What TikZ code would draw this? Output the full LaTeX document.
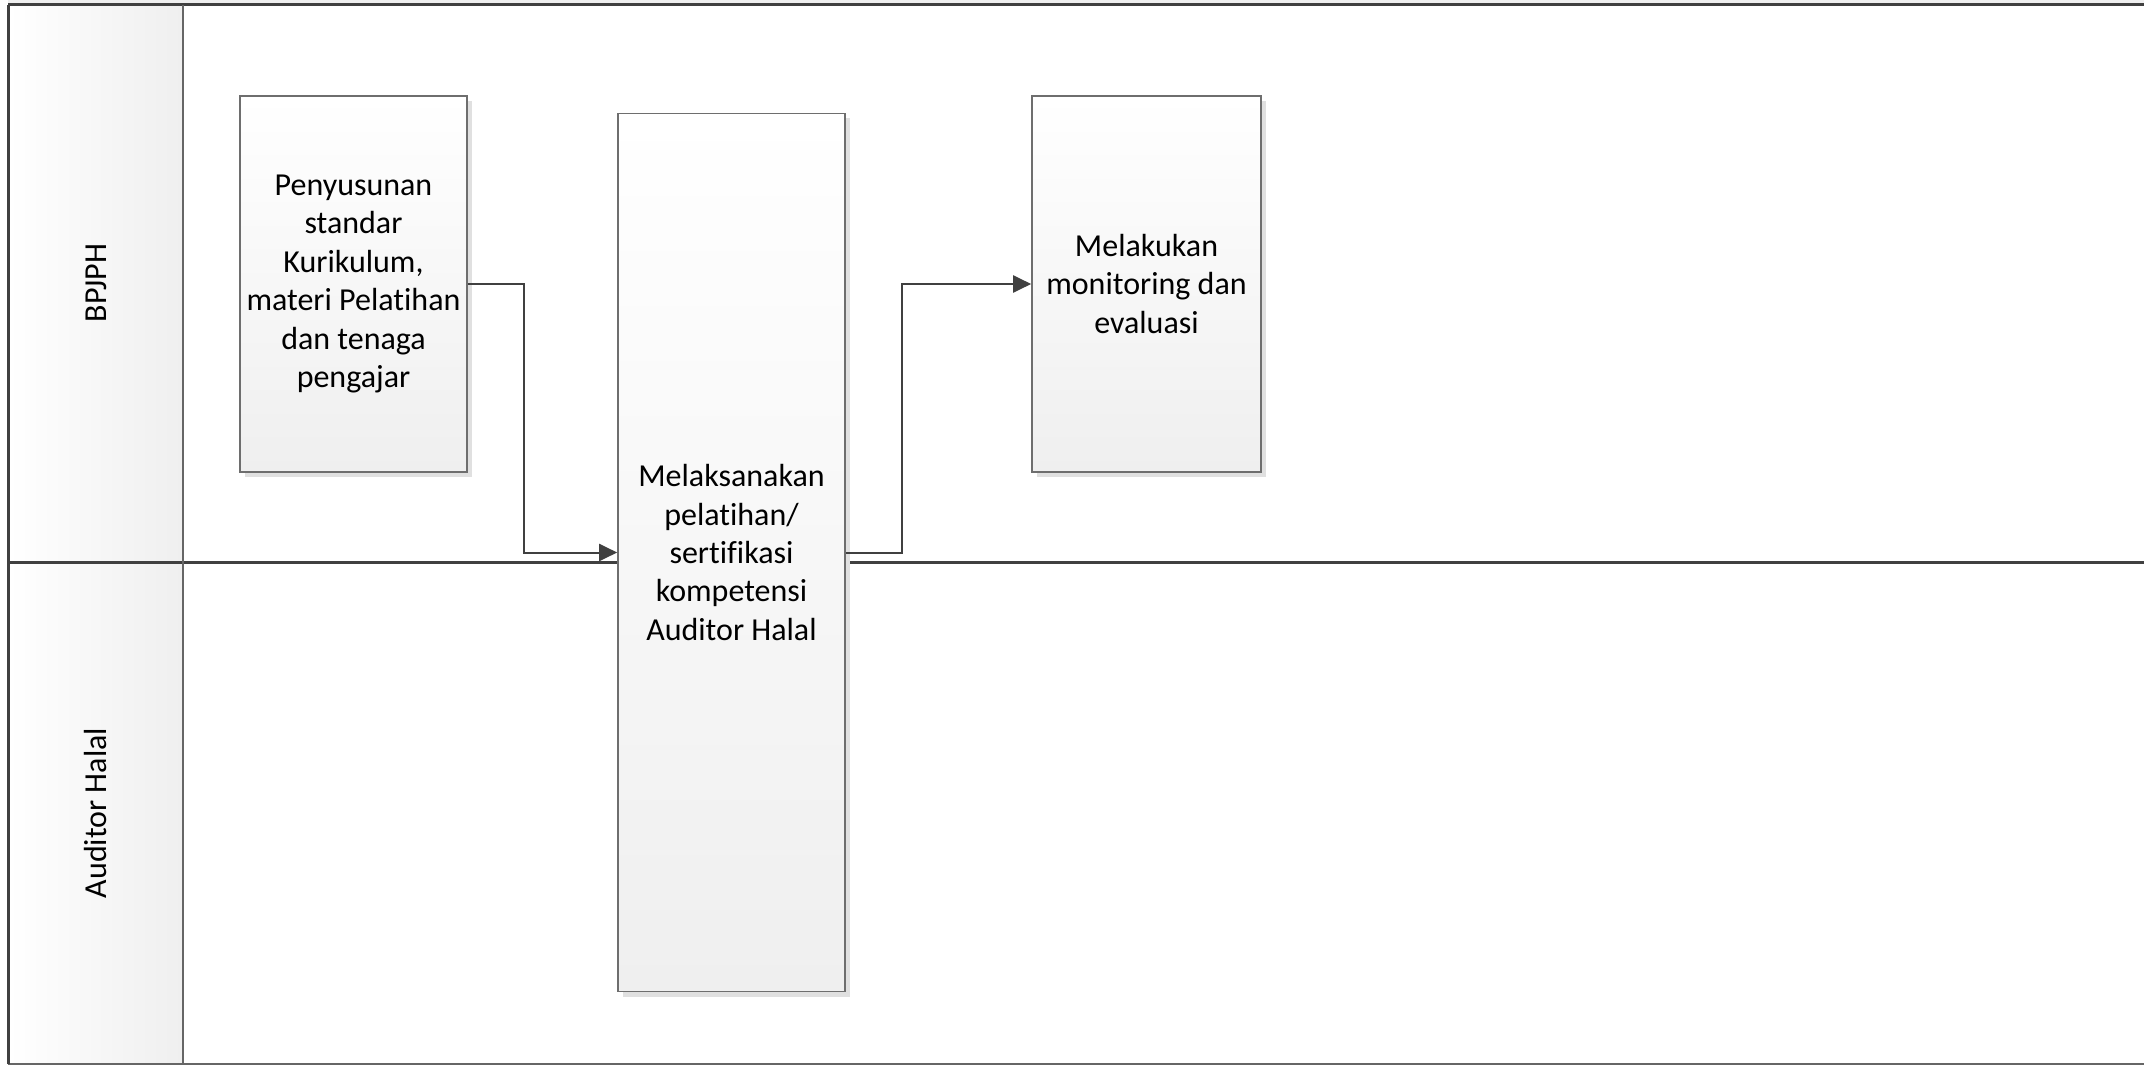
\documentclass[tikz,border=0pt]{standalone}
\usepackage{fontspec}
\setmainfont{Carlito}[Ligatures=NoCommon]
\usetikzlibrary{arrows.meta,shadows}
\definecolor{lineC}{HTML}{404040}
\definecolor{boxC}{HTML}{6E6E6E}
\definecolor{grayF}{HTML}{EFEFEF}
\begin{document}
\begin{tikzpicture}[x={(0.5pt,0)},y={(0,-0.5pt)},
  procbox/.style={draw=boxC,line width=0.8pt,top color=white,bottom color=grayF,
    align=center,inner sep=2pt,font=\fontsize{16}{19.2}\selectfont,
    drop shadow={shadow xshift=2.5pt,shadow yshift=-2.5pt,fill=black!12,opacity=1}},
  lanelbl/.style={rotate=90,font=\fontsize{16}{19.2}\selectfont},
  poolline/.style={draw=lineC,line width=1.5pt},
  arr/.style={draw=lineC,line width=1pt,-{Triangle[length=9pt,width=8.5pt]}}]
\useasboundingbox (0,0) rectangle (2144,1065);
% top strip
\fill[grayF] (8,0) rectangle (2144,5);
% lane header shading
\shade[left color=white,right color=grayF] (8,5) rectangle (183,1064);
% pool lines
\draw[poolline] (8,5) -- (2144,5);
\draw[poolline] (8,562) -- (2144,562);
\draw[draw=lineC!80,line width=1.2pt] (8,1064) -- (2144,1064);
\draw[poolline] (8,5) -- (8,1064);
\draw[draw=lineC!80,line width=1.2pt] (183,5) -- (183,1064);
% lane labels
\node[lanelbl] (l1) at (96,283) {BPJPH};
\node[lanelbl] (l2) at (96,813) {Auditor Halal};
% boxes
\node[procbox,minimum width=113.5pt,minimum height=188pt] (b1) at (353.5,284)
  {Penyusunan\\standar\\Kurikulum,\\materi Pelatihan\\dan tenaga\\pengajar};
\node[procbox,minimum width=113.5pt,minimum height=439pt] (b2) at (731.5,552.5)
  {Melaksanakan\\pelatihan/\\sertifikasi\\kompetensi\\Auditor Halal};
\node[procbox,minimum width=114.5pt,minimum height=188pt] (b3) at (1146.5,284)
  {Melakukan\\monitoring dan\\evaluasi};
% connectors
\draw[arr] (b1.east) -- (524,284) |- (b2.west);
\draw[arr] (b2.east) -- (902,552.5) |- (b3.west);
\end{tikzpicture}
\end{document}
